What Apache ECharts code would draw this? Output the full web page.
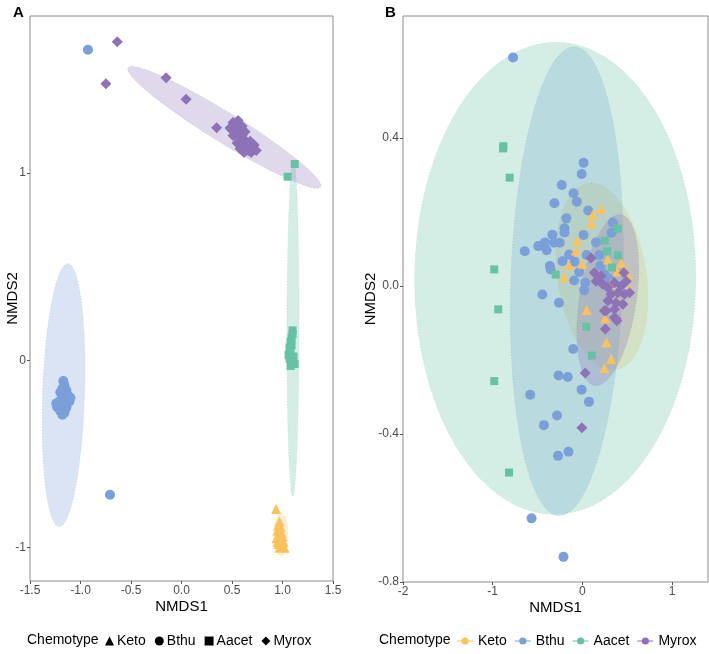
<!DOCTYPE html>
<html>
<head>
<meta charset="utf-8">
<script src="https://cdn.jsdelivr.net/npm/echarts@6/dist/echarts.min.js"></script>
<style>
  html, body { margin: 0; padding: 0; background: #fff; }
  #chart { width: 709px; height: 654px; }
</style>
</head>
<body>
<div id="chart"></div>
<script>
"use strict";

// ---- panel A points [NMDS1, NMDS2] ----
var ketoA = [[0.936, -0.793], [0.97, -0.86], [0.96, -0.88], [0.98, -0.89], [0.95, -0.91], [0.99, -0.92],
    [0.96, -0.93], [1.00, -0.94], [0.94, -0.95], [0.98, -0.96], [1.01, -0.97], [0.96, -0.98],
    [0.99, -0.99], [0.97, -1.00], [1.02, -1.00], [0.95, -0.97]];
var bthuA = [[-0.926, 1.658], [-0.708, -0.718],
    [-1.17, -0.11], [-1.16, -0.13], [-1.18, -0.15], [-1.14, -0.16], [-1.20, -0.17], [-1.15, -0.18],
    [-1.12, -0.19], [-1.18, -0.20], [-1.13, -0.21], [-1.21, -0.22], [-1.16, -0.23], [-1.11, -0.22],
    [-1.23, -0.25], [-1.19, -0.25], [-1.14, -0.25], [-1.20, -0.27], [-1.16, -0.28], [-1.18, -0.29],
    [-1.15, -0.26], [-1.22, -0.24], [-1.10, -0.20], [-1.24, -0.23]];
var aacetA = [[1.121, 1.048], [1.051, 0.98],
    [1.10, 0.16], [1.10, 0.14], [1.09, 0.12], [1.08, 0.10], [1.09, 0.08], [1.07, 0.07], [1.08, 0.05],
    [1.06, 0.03], [1.07, 0.01], [1.09, 0.00], [1.11, 0.02], [1.12, -0.02], [1.10, -0.01], [1.08, -0.03]];
var myroxA = [[-0.636, 1.70], [-0.748, 1.476], [-0.153, 1.508], [0.045, 1.394], [0.348, 1.241],
    [0.52, 1.26], [0.55, 1.27], [0.50, 1.23], [0.54, 1.24], [0.58, 1.25], [0.53, 1.21], [0.57, 1.22],
    [0.60, 1.20], [0.56, 1.19], [0.62, 1.18], [0.59, 1.16], [0.64, 1.15], [0.61, 1.14], [0.67, 1.14],
    [0.70, 1.13], [0.66, 1.12], [0.58, 1.13], [0.63, 1.17], [0.48, 1.24], [0.51, 1.27], [0.56, 1.28],
    [0.60, 1.25], [0.63, 1.22], [0.68, 1.17], [0.72, 1.15], [0.74, 1.12], [0.69, 1.11], [0.62, 1.11],
    [0.55, 1.16], [0.51, 1.20]];

// ---- panel B points ----
var bthuB = [[-0.773, 0.618], [0.013, 0.333], [-0.009, 0.303], [-0.230, 0.273], [-0.099, 0.251],
    [-0.312, 0.224], [-0.062, 0.228], [0.065, 0.204], [-0.178, 0.183], [0.339, 0.172], [-0.200, 0.156],
    [-0.200, 0.145], [0.013, 0.138], [0.324, 0.144], [-0.335, 0.139], [-0.418, 0.118], [-0.492, 0.108],
    [-0.317, 0.117], [-0.253, 0.117], [0.152, 0.118], [-0.643, 0.094], [-0.399, 0.097], [-0.148, 0.085],
    [0.047, 0.084], [0.189, 0.084], [-0.222, 0.067], [-0.088, 0.066], [-0.362, 0.054], [-0.354, 0.045],
    [0.200, 0.054], [-0.036, 0.038], [-0.092, 0.015], [0.031, 0.009], [0.020, -0.011], [-0.447, -0.023],
    [-0.261, -0.045], [0.245, 0.031], [0.30, 0.02],
    [-0.103, -0.170], [-0.267, -0.242], [-0.163, -0.246], [-0.582, -0.294], [-0.009, -0.280],
    [0.073, -0.313], [-0.283, -0.350], [-0.429, -0.376], [-0.155, -0.448], [-0.272, -0.459],
    [-0.567, -0.628], [-0.211, -0.732]];
var ketoB = [[0.208, 0.209], [0.115, 0.193], [0.096, 0.169], [-0.054, 0.123], [-0.073, 0.096],
    [-0.148, 0.056], [0.002, 0.060], [-0.204, 0.024], [0.283, 0.072], [0.433, 0.063], [0.388, 0.040],
    [0.508, 0.031], [0.320, 0.006], [0.395, -0.040], [0.526, -0.009], [0.047, -0.065], [0.253, -0.088],
    [0.268, -0.152], [0.320, -0.197], [0.245, -0.222]];
var aacetB = [[-0.880, 0.378], [-0.885, 0.372], [-0.811, 0.293], [-0.983, 0.045], [-0.938, -0.063],
    [-0.298, 0.031], [0.395, 0.155], [0.249, 0.123], [0.275, 0.094], [0.395, 0.083], [0.33, 0.05],
    [0.043, -0.110], [0.105, -0.188], [-0.983, -0.257], [-0.818, -0.504]];
var myroxB = [[0.096, 0.076], [0.133, 0.036], [0.208, 0.027], [0.152, 0.013], [0.227, 0.005],
    [0.283, -0.004], [0.357, 0.009], [0.433, 0.000], [0.489, 0.013], [0.320, -0.022], [0.395, -0.018],
    [0.470, -0.022], [0.283, -0.040], [0.376, -0.045], [0.452, -0.049], [0.357, -0.063], [0.264, -0.067],
    [0.463, 0.036], [0.526, -0.018], [0.376, -0.089], [0.245, -0.067], [0.256, -0.116], [0.384, -0.094],
    [0.357, -0.085], [0.031, -0.235], [-0.006, -0.383]];

// ---- confidence ellipses: [centre x, centre y, axis1 x, axis1 y, axis2 x, axis2 y] ----
var ellipseA = {
    Keto: [0.985, -0.93, 0, 0.115, 0.07, 0],
    Bthu: [-1.168, -0.186, 0.042, 0.702, 0.208, 0],
    Aacet: [1.104, 0.171, 0.003, 0.898, 0.06, 0],
    Myrox: [0.424, 1.244, 0.954, -0.318, -0.078, -0.068]
};
var ellipseB = {
    Keto: [0.217, 0.026, -0.121, 0.253, 0.5, 0],
    Bthu: [-0.174, 0.013, 0.082, 0.634, 0.625, 0],
    Aacet: [-0.303, 0.021, 0.01, 0.638, 1.567, 0],
    Myrox: [0.283, -0.038, 0.130, 0.231, 0.32, 0]
};

var groups = ['Keto', 'Bthu', 'Aacet', 'Myrox'];
var xTicksA = [-1.5, -1.0, -0.5, 0.0, 0.5, 1.0, 1.5];
var yTicksA = [-1, 0, 1];
var xTicksB = [-2, -1, 0, 1];
var yTicksB = [-0.8, -0.4, 0.0, 0.4];

var colors = {Keto: '#fbc25c', Bthu: '#7b9fd8', Aacet: '#66c2a5', Myrox: '#8e72b7'};
var symbols = {Keto: 'triangle', Bthu: 'circle', Aacet: 'rect', Myrox: 'diamond'};
var sizes = {Keto: 10, Bthu: 10, Aacet: 8, Myrox: 11};
var pointsA = {Keto: ketoA, Bthu: bthuA, Aacet: aacetA, Myrox: myroxA};
var pointsB = {Keto: ketoB, Bthu: bthuB, Aacet: aacetB, Myrox: myroxB};

var FONT = 'Liberation Sans';

function hexA(hex, a) {
    var n = parseInt(hex.slice(1), 16);
    return 'rgba(' + (n >> 16) + ',' + ((n >> 8) & 255) + ',' + (n & 255) + ',' + a + ')';
}

function renderEllipse(params, api) {
    var cx = api.value(0), cy = api.value(1);
    var ux = api.value(2), uy = api.value(3), vx = api.value(4), vy = api.value(5);
    var pts = [];
    for (var i = 0; i < 90; i++) {
        var t = i / 90 * Math.PI * 2;
        pts.push(api.coord([cx + ux * Math.cos(t) + vx * Math.sin(t),
                            cy + uy * Math.cos(t) + vy * Math.sin(t)]));
    }
    var c = params.seriesName.split(' ')[0];
    return {
        type: 'polygon',
        shape: {points: pts},
        style: {fill: hexA(colors[c], 0.28), stroke: hexA(colors[c], 0.5), lineWidth: 0.6, lineDash: [1, 2]}
    };
}

function axisX(idx, min, max, ticks, fmt) {
    return {
        type: 'value', gridIndex: idx, min: min, max: max,
        name: 'NMDS1', nameLocation: 'middle', nameGap: 18, nameMoveOverlap: false,
        nameTextStyle: {color: '#000', fontSize: 15, fontFamily: FONT},
        axisLine: {show: false, onZero: false},
        splitLine: {show: false},
        axisTick: {show: true, length: 3, customValues: ticks, lineStyle: {color: '#555'}},
        axisLabel: {customValues: ticks, color: '#4d4d4d', fontSize: 12, fontFamily: FONT, margin: 4,
            formatter: fmt}
    };
}

function axisY(idx, min, max, ticks, fmt, gap) {
    return {
        type: 'value', gridIndex: idx, min: min, max: max,
        name: 'NMDS2', nameLocation: 'middle', nameGap: gap, nameMoveOverlap: false,
        nameTextStyle: {color: '#000', fontSize: 15, fontFamily: FONT},
        axisLine: {show: false, onZero: false},
        splitLine: {show: false},
        axisTick: {show: true, length: 3, customValues: ticks, lineStyle: {color: '#555'}},
        axisLabel: {customValues: ticks, color: '#4d4d4d', fontSize: 12, fontFamily: FONT, margin: 4,
            formatter: fmt}
    };
}

var series = [];
[[ellipseA, 0], [ellipseB, 1]].forEach(function (p) {
    groups.forEach(function (g) {
        series.push({
            name: g + ' ellipse', type: 'custom', xAxisIndex: p[1], yAxisIndex: p[1],
            silent: true, z: 1, renderItem: renderEllipse, data: [p[0][g]]
        });
    });
});
[[pointsA, 0], [pointsB, 1]].forEach(function (p) {
    ['Bthu', 'Keto', 'Aacet', 'Myrox'].forEach(function (g) {
        series.push({
            name: g, type: 'scatter', xAxisIndex: p[1], yAxisIndex: p[1], z: 3,
            symbol: symbols[g], symbolSize: sizes[g],
            itemStyle: {color: colors[g], opacity: 1},
            emphasis: {disabled: true},
            data: p[0][g]
        });
    });
});

var lineDot = 'path://M0,4.4H20V5.6H0Z M14.5,5A4.5,4.5 0 1 1 5.5,5A4.5,4.5 0 1 1 14.5,5Z';

var chart = echarts.init(document.getElementById('chart'));
chart.setOption({
    animation: false,
    backgroundColor: '#fff',
    color: groups.map(function (g) { return colors[g]; }),
    title: [
        {text: 'A', left: 8, top: 0, textStyle: {fontSize: 15, fontWeight: 'bold', color: '#000', fontFamily: FONT}},
        {text: 'B', left: 380, top: 0, textStyle: {fontSize: 15, fontWeight: 'bold', color: '#000', fontFamily: FONT}},
        {text: 'Chemotype', left: 22, top: 628, textStyle: {fontSize: 14, fontWeight: 'normal', color: '#000', fontFamily: FONT}},
        {text: 'Chemotype', left: 374, top: 628, textStyle: {fontSize: 14, fontWeight: 'normal', color: '#000', fontFamily: FONT}}
    ],
    grid: [
        {left: 30, top: 16, width: 303, height: 565, show: true, borderColor: '#8a8a8a', borderWidth: 1, backgroundColor: '#fff'},
        {left: 403, top: 16, width: 305, height: 566, show: true, borderColor: '#8a8a8a', borderWidth: 1, backgroundColor: '#fff'}
    ],
    xAxis: [
        axisX(0, -1.5, 1.5, xTicksA, function (v) { return v.toFixed(1); }),
        axisX(1, -2, 1.40, xTicksB, function (v) { return String(Math.round(v)); })
    ],
    yAxis: [
        axisY(0, -1.178, 1.838, yTicksA, function (v) { return String(Math.round(v)); }, 10),
        axisY(1, -0.8, 0.73, yTicksB, function (v) { return v.toFixed(1); }, 25)
    ],
    legend: [{
        left: 100, top: 629, itemGap: 9, itemWidth: 9, itemHeight: 9, selectedMode: false,
        textStyle: {fontSize: 14, color: '#000', fontFamily: FONT, padding: [0, 0, 0, -2]},
        data: groups.map(function (g) {
            return {name: g, icon: symbols[g], itemStyle: {color: '#000'}};
        })
    }, {
        left: 452, top: 629, itemGap: 8, itemWidth: 16, itemHeight: 8, selectedMode: false,
        textStyle: {fontSize: 14, color: '#000', fontFamily: FONT},
        data: groups.map(function (g) {
            return {name: g, icon: lineDot, itemStyle: {color: colors[g]}};
        })
    }],
    series: series
});
</script>
</body>
</html>
